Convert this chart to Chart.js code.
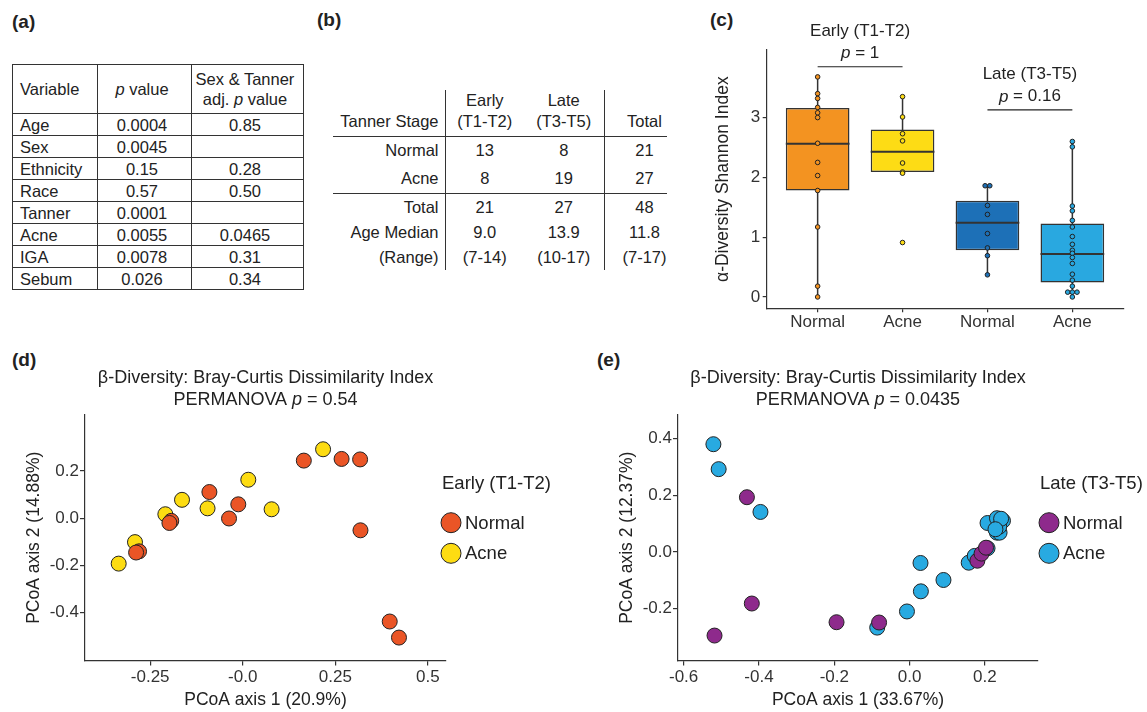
<!DOCTYPE html>
<html lang="en">
<head>
<meta charset="UTF-8">
<title>Acne microbiome | diversity panels</title>
<script src="https://cdn.jsdelivr.net/npm/chart.js"></script>
<style>
  body { margin:0; width:1147px; height:712px; position:relative; overflow:hidden; background:#fff;
         font-family:"Liberation Sans", Arial, Helvetica, sans-serif; color:#222; }
  .lbl { position:absolute; font-weight:bold; font-size:19px; line-height:22px; }
  canvas { position:absolute; }
  table { position:absolute; border-collapse:collapse; font-size:16.5px; table-layout:fixed; }
  td { padding:0; white-space:nowrap; }
  #tabA { left:12px; top:64px; width:291px; }
  #tabA td { border:1px solid #333; padding-left:7px; height:21px; line-height:20px; }
  #tabA td.c { text-align:center; padding-left:0; padding-right:5px; }
  #tabA tr.hd td { height:48px; line-height:20px; }
  #tabB { left:333px; top:90px; }
  #tabB td { text-align:center; line-height:20.7px; }
  #tabB td.l { text-align:right; padding-right:6px; border-right:1px solid #333; }
  #tabB td.r { border-right:1px solid #333; }
  #tabB td.t { padding-left:18px; }
  #tabB tr.line td { border-bottom:1px solid #333; }
</style>
</head>
<body>
  <div class="lbl" style="left:12px; top:11px;">(a)</div>
  <div class="lbl" style="left:317px; top:9px;">(b)</div>
  <div class="lbl" style="left:710px; top:9px;">(c)</div>
  <div class="lbl" style="left:12px; top:349px;">(d)</div>
  <div class="lbl" style="left:597px; top:349px;">(e)</div>

  <table id="tabA"></table>
  <table id="tabB"></table>

  <canvas id="chartC" width="447" height="340" style="left:700px; top:0;"></canvas>
  <canvas id="chartD" width="580" height="372" style="left:0; top:340px;"></canvas>
  <canvas id="chartE" width="567" height="372" style="left:580px; top:340px;"></canvas>

<script>
// (a) association table
const varNames = ['Age', 'Sex', 'Ethnicity', 'Race', 'Tanner', 'Acne', 'IGA', 'Sebum'];
const pValues = ['0.0004', '0.0045', '0.15', '0.57', '0.0001', '0.0055', '0.0078', '0.026'];
const adjPValues = ['0.85', '', '0.28', '0.50', '', '0.0465', '0.31', '0.34'];

// (b) cohort table: Early, Late, Total
const stageNames = ['Early', 'Late', ''];
const stageRanges = ['(T1-T2)', '(T3-T5)', 'Total'];
const normalCounts = [13, 8, 21];
const acneCounts = [8, 19, 27];
const totalCounts = [21, 27, 48];
const ageMedians = ['9.0', '13.9', '11.8'];
const ageRanges = ['(7-14)', '(10-17)', '(7-17)'];

// (c) alpha diversity boxes
const boxCats = ['Normal', 'Acne', 'Normal', 'Acne'];
const boxColors = ['#F39321', '#FDDC15', '#1D70B7', '#29A8E0'];
const boxQ1 = [1.78, 2.09, 0.78, 0.24];
const boxMedian = [2.56, 2.43, 1.24, 0.72];
const boxQ3 = [3.16, 2.80, 1.61, 1.23];
const whiskerLow = [0.00, 2.07, 0.37, 0.00];
const whiskerHigh = [3.68, 3.35, 1.86, 2.60];
const earlyNormalDots = [3.68, 3.40, 3.32, 3.17, 3.08, 3.00, 2.57, 2.25, 2.03, 1.78, 1.17, 0.18, 0.00];
const earlyAcneDots = [3.35, 3.01, 2.73, 2.61, 2.24, 2.09, 2.07, 0.91];
const lateNormalDots = [1.86, 1.86, 1.53, 1.38, 1.06, 0.82, 0.69, 0.37];
const lateAcneDots = [2.60, 2.51, 1.52, 1.44, 1.28, 1.17, 1.01, 0.88, 0.78, 0.73, 0.66, 0.56, 0.38, 0.28, 0.18, 0.08, 0.08, 0.08, 0.00];
const cYTicks = [0, 1, 2, 3];
const bracketFrom = [1, 3];
const bracketTo = [2, 4];
const bracketY = [3.85, 3.13];
const bracketGroups = ['Early (T1-T2)', 'Late (T3-T5)'];
const bracketP = ['1', '0.16'];

// (d) PCoA, early stage
const dNormalX = [0.165, 0.267, 0.317, -0.090, -0.012, -0.037, -0.193, -0.198, 0.318, -0.280, -0.288, 0.397, 0.422];
const dNormalY = [0.244, 0.251, 0.249, 0.111, 0.059, -0.001, -0.011, -0.020, -0.051, -0.140, -0.145, -0.437, -0.505];
const dAcneX = [0.217, 0.015, -0.164, -0.095, 0.078, -0.209, -0.291, -0.335];
const dAcneY = [0.292, 0.163, 0.078, 0.042, 0.038, 0.017, -0.101, -0.192];
const dXTicks = [-0.25, 0, 0.25, 0.5];
const dXTickLabels = ['-0.25', '-0.0', '0.25', '0.5'];
const dYTicks = [-0.4, -0.2, 0, 0.2];
const dYTickLabels = ['-0.4', '-0.2', '0.0', '0.2'];

// (e) PCoA, late stage
const eNormalX = [-0.432, -0.419, -0.518, -0.194, -0.081, 0.180, 0.191, 0.203];
const eNormalY = [0.193, -0.182, -0.295, -0.248, -0.249, -0.031, -0.006, 0.015];
const eAcneX = [-0.521, -0.507, -0.396, -0.086, -0.007, 0.030, 0.029, 0.090, 0.157, 0.173, 0.207, 0.207, 0.232, 0.248, 0.232, 0.239, 0.238, 0.243, 0.228];
const eAcneY = [0.380, 0.292, 0.141, -0.267, -0.210, -0.139, -0.039, -0.099, -0.038, -0.014, 0.013, 0.102, 0.119, 0.110, 0.068, 0.068, 0.089, 0.117, 0.080];
const eXTicks = [-0.6, -0.4, -0.2, 0, 0.2];
const eXTickLabels = ['-0.6', '-0.4', '-0.2', '0.0', '0.2'];
const eYTicks = [-0.2, 0, 0.2, 0.4];
const eYTickLabels = ['-0.2', '0.0', '0.2', '0.4'];

// ---- tables ----
let a = '<colgroup><col style="width:85px"><col style="width:94px"><col style="width:112px"></colgroup>';
a += '<tr class="hd"><td>Variable</td><td class="c"><i>p</i> value</td><td class="c">Sex &amp; Tanner<br>adj. <i>p</i> value</td></tr>';
varNames.forEach((v, i) => {
  a += `<tr><td>${v}</td><td class="c">${pValues[i]}</td><td class="c">${adjPValues[i]}</td></tr>`;
});
document.getElementById('tabA').innerHTML = a;

const cell = (vals, i) => `<td class="${i === 1 ? 'r' : (i === 2 ? 't' : '')}">${vals[i]}</td>`;
const bRow = (cls, h, label, vals) =>
  `<tr class="${cls}" style="height:${h}px"><td class="l">${label}</td>${vals.map((v, i) => cell(vals, i)).join('')}</tr>`;
let b = '<colgroup><col style="width:112px"><col style="width:79px"><col style="width:80px"><col style="width:56px"></colgroup>';
b += `<tr class="line" style="height:46px"><td class="l" style="vertical-align:bottom;padding-bottom:5px">Tanner Stage</td>` +
  stageNames.map((s, i) => `<td class="${i === 1 ? 'r' : (i === 2 ? 't' : '')}" style="vertical-align:bottom;padding-bottom:5px">${s ? s + '<br>' : ''}${stageRanges[i]}</td>`).join('') + '</tr>';
b += bRow('', 27, 'Normal', normalCounts);
b += bRow('line', 29.7, 'Acne', acneCounts);
b += bRow('', 26.8, 'Total', totalCounts);
b += bRow('', 24.5, 'Age Median', ageMedians);
b += bRow('', 25.3, '(Range)', ageRanges);
document.getElementById('tabB').innerHTML = b;

// ---- charts ----
const FONT = '"Liberation Sans", Arial, Helvetica, sans-serif';
Chart.defaults.font.family = FONT;
Chart.defaults.color = '#333';

function drawRich(ctx, segs, cx, y, size) {
  const fonts = segs.map(s => (s.i ? 'italic ' : '') + size + 'px ' + FONT);
  let total = 0;
  const widths = segs.map((s, k) => { ctx.font = fonts[k]; const w = ctx.measureText(s.t).width; total += w; return w; });
  let x = cx - total / 2;
  ctx.textAlign = 'left';
  ctx.textBaseline = 'middle';
  segs.forEach((s, k) => { ctx.font = fonts[k]; ctx.fillText(s.t, x, y); x += widths[k]; });
}

const panelDecor = {
  id: 'panelDecor',
  afterDraw(chart, args, opts) {
    if (!opts.lines) return;
    const ctx = chart.ctx;
    const area = chart.chartArea;
    ctx.save();
    ctx.fillStyle = '#222';
    const cx = (area.left + area.right) / 2;
    opts.lines.forEach((segs, i) => drawRich(ctx, segs, cx, opts.titleY[i], 18));
    ctx.font = '18.5px ' + FONT;
    ctx.textAlign = 'left';
    ctx.textBaseline = 'middle';
    ctx.fillText(opts.legendTitle, opts.legendX, opts.legendY[0]);
    chart.data.datasets.forEach((ds, i) => {
      const y = opts.legendY[i + 1];
      ctx.beginPath();
      ctx.arc(opts.legendX + 9, y, 10, 0, Math.PI * 2);
      ctx.fillStyle = ds.backgroundColor;
      ctx.fill();
      ctx.lineWidth = 1;
      ctx.strokeStyle = '#222';
      ctx.stroke();
      ctx.fillStyle = '#222';
      ctx.fillText(ds.label, opts.legendX + 23, y + 1);
    });
    ctx.restore();
  }
};

const brackets = {
  id: 'brackets',
  afterDraw(chart, args, opts) {
    if (!opts.from) return;
    const ctx = chart.ctx;
    const xs = chart.scales.x, ys = chart.scales.y;
    ctx.save();
    opts.from.forEach((f, i) => {
      const x1 = xs.getPixelForValue(f), x2 = xs.getPixelForValue(opts.to[i]);
      const y = ys.getPixelForValue(opts.y[i]);
      ctx.strokeStyle = '#222';
      ctx.lineWidth = 1.2;
      ctx.beginPath();
      ctx.moveTo(x1, y);
      ctx.lineTo(x2, y);
      ctx.stroke();
      ctx.fillStyle = '#222';
      const cx = (x1 + x2) / 2;
      drawRich(ctx, [{ t: opts.group[i] }], cx, y - 35.5, 17);
      drawRich(ctx, [{ t: 'p', i: true }, { t: ' = ' + opts.p[i] }], cx, y - 13, 17);
    });
    ctx.restore();
  }
};

Chart.register(panelDecor, brackets);

const gridStyle = len => ({ display: true, drawOnChartArea: false, drawTicks: true, tickLength: len, color: '#333', lineWidth: 1.2, offset: false });
const borderStyle = { display: true, color: '#333', width: 1.2 };

// (c) box plot
const boxX = boxCats.map((c, i) => i + 1);
const groupDots = [earlyNormalDots, earlyAcneDots, lateNormalDots, lateAcneDots];
function dotPoints(vals, x) {
  // equal values sit side by side, as in a dot plot
  return vals.map((v, k) => {
    const same = vals.filter(w => w === v).length;
    const rank = vals.slice(0, k).filter(w => w === v).length;
    return { x: x + (rank - (same - 1) / 2) * 0.055, y: v };
  });
}

const cDatasets = [{
  type: 'bar',
  data: boxX.map((x, i) => ({ x: x, y: [boxQ1[i], boxQ3[i]] })),
  backgroundColor: boxColors,
  borderColor: '#333',
  borderWidth: 1.5,
  borderSkipped: false,
  categoryPercentage: 1,
  barPercentage: 0.75,
  order: 2
}];
boxX.forEach((x, i) => {
  cDatasets.push({
    type: 'line', data: [{ x: x, y: whiskerLow[i] }, { x: x, y: whiskerHigh[i] }],
    borderColor: '#333', borderWidth: 1.5, pointRadius: 0, order: 3
  });
  cDatasets.push({
    type: 'line', data: [{ x: x - 0.375, y: boxMedian[i] }, { x: x + 0.375, y: boxMedian[i] }],
    borderColor: '#333', borderWidth: 2, pointRadius: 0, order: 1
  });
  cDatasets.push({
    type: 'scatter', data: dotPoints(groupDots[i], x),
    backgroundColor: boxColors[i], borderColor: '#222', borderWidth: 1, pointRadius: 2.3, order: 0
  });
});

new Chart(document.getElementById('chartC'), {
  type: 'bar',
  data: { datasets: cDatasets },
  options: {
    responsive: false,
    animation: false,
    layout: { padding: { top: 50, right: 23.7, left: 0, bottom: 0 } },
    plugins: {
      legend: { display: false },
      tooltip: { enabled: false },
      brackets: { from: bracketFrom, to: bracketTo, y: bracketY, group: bracketGroups, p: bracketP }
    },
    scales: {
      x: {
        type: 'linear', min: 0.4, max: 4.6, offset: false,
        afterBuildTicks: s => { s.ticks = boxX.map(v => ({ value: v })); },
        afterFit: s => { s.height = 31.7; },
        ticks: { callback: (v, i) => boxCats[i], font: { size: 17 }, color: '#333', padding: 0, maxRotation: 0, autoSkip: false },
        grid: gridStyle(4), border: borderStyle
      },
      y: {
        min: -0.19, max: 4.13,
        afterBuildTicks: s => { s.ticks = cYTicks.map(v => ({ value: v })); },
        afterFit: s => { s.width = 66.7; },
        ticks: { callback: (v, i) => String(cYTicks[i]), font: { size: 17 }, color: '#333', padding: 2.5 },
        grid: gridStyle(4), border: borderStyle,
        title: { display: true, text: 'α-Diversity Shannon Index', font: { size: 17.5 }, color: '#222', padding: { top: 12.8, bottom: 0 } }
      }
    }
  }
});

// (d), (e) PCoA scatter panels
function pcoaChart(id, o) {
  return new Chart(document.getElementById(id), {
    type: 'scatter',
    data: {
      datasets: [
        { label: 'Normal', data: o.nx.map((x, i) => ({ x: x, y: o.ny[i] })), backgroundColor: o.colors[0], order: 0 },
        { label: 'Acne', data: o.ax.map((x, i) => ({ x: x, y: o.ay[i] })), backgroundColor: o.colors[1], order: 1 }
      ]
    },
    options: {
      responsive: false,
      animation: false,
      elements: { point: { radius: 7.5, hoverRadius: 7.5, borderWidth: 1, borderColor: '#222' } },
      layout: { padding: { top: 75, right: o.padRight, left: 0, bottom: 0 } },
      plugins: {
        legend: { display: false },
        tooltip: { enabled: false },
        panelDecor: {
          lines: [[{ t: 'β-Diversity: Bray-Curtis Dissimilarity Index' }],
                  [{ t: 'PERMANOVA ' }, { t: 'p', i: true }, { t: ' = ' + o.perm }]],
          titleY: [38, 60],
          legendTitle: o.legendTitle, legendX: o.legendX, legendY: [144, 182.7, 213.3]
        }
      },
      scales: {
        x: {
          type: 'linear', min: o.xMin, max: o.xMax,
          afterBuildTicks: s => { s.ticks = o.xTicks.map(v => ({ value: v })); },
          afterFit: s => { s.height = 51.5; },
          ticks: { callback: (v, i) => o.xLabels[i], font: { size: 17 }, color: '#333', padding: 2, maxRotation: 0, autoSkip: false },
          grid: gridStyle(5), border: borderStyle,
          title: { display: true, text: o.xTitle, font: { size: 17.5 }, color: '#222', padding: { top: 0, bottom: 1.5 } }
        },
        y: {
          min: o.yMin, max: o.yMax,
          afterBuildTicks: s => { s.ticks = o.yTicks.map(v => ({ value: v })); },
          afterFit: s => { s.width = o.yWidth; },
          ticks: { callback: (v, i) => o.yLabels[i], font: { size: 17 }, color: '#333', padding: 1 },
          grid: gridStyle(5), border: borderStyle,
          title: { display: true, text: o.yTitle, font: { size: 17.5 }, color: '#222', padding: { top: o.yTitlePad, bottom: 0 } }
        }
      }
    }
  });
}

pcoaChart('chartD', {
  nx: dNormalX, ny: dNormalY, ax: dAcneX, ay: dAcneY,
  colors: ['#EA5526', '#FDDC12'],
  xMin: -0.426, xMax: 0.549, yMin: -0.602, yMax: 0.437,
  xTicks: dXTicks, xLabels: dXTickLabels, yTicks: dYTicks, yLabels: dYTickLabels,
  xTitle: 'PCoA axis 1 (20.9%)', yTitle: 'PCoA axis 2 (14.88%)',
  perm: '0.54', legendTitle: 'Early (T1-T2)', legendX: 442,
  padRight: 134, yWidth: 85, yTitlePad: 23.5
});

pcoaChart('chartE', {
  nx: eNormalX, ny: eNormalY, ax: eAcneX, ay: eAcneY,
  colors: ['#8E2A8C', '#28AAE1'],
  xMin: -0.615, xMax: 0.341, yMin: -0.383, yMax: 0.483,
  xTicks: eXTicks, xLabels: eXTickLabels, yTicks: eYTicks, yLabels: eYTickLabels,
  xTitle: 'PCoA axis 1 (33.67%)', yTitle: 'PCoA axis 2 (12.37%)',
  perm: '0.0435', legendTitle: 'Late (T3-T5)', legendX: 460,
  padRight: 109, yWidth: 98, yTitlePad: 37
});
</script>
</body>
</html>
